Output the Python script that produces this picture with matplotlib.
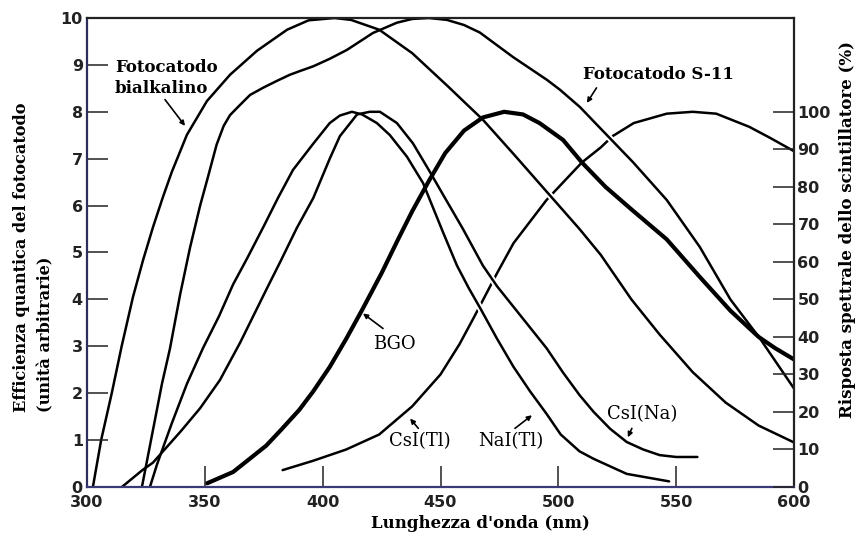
import numpy as np
import matplotlib
matplotlib.use("Agg")
import matplotlib.pyplot as plt

# wavelength (nm) / quantum efficiency of the photocathodes (arbitrary units, 0-10)
bialk_nm = [302.5, 306, 310.5, 314.7, 319.5, 323.8, 328, 332.2, 336, 342.4, 350.9, 360.7, 372.1,
            384.9, 394, 405, 412, 424, 438, 453, 468, 481, 495, 509, 518, 531, 543, 557, 571, 585, 600]
bialk_qe = [0, 1, 2, 3, 4.05, 4.84, 5.54, 6.18, 6.72, 7.51, 8.23, 8.79, 9.3,
            9.75, 9.95, 10.0, 9.96, 9.75, 9.25, 8.55, 7.83, 7.1, 6.3, 5.5, 4.95, 4.0, 3.25, 2.45, 1.8, 1.31, 0.95]

s11_nm = [323.3, 331.8, 335.2, 339.5, 343.7, 348, 351, 355, 358, 360.7, 365, 369.2, 375, 380.6,
          386.1, 390.4, 396, 403, 410.3, 421.3, 431.5, 438, 445, 452.7, 460, 466.7, 480.7, 495.2,
          500.7, 509.2, 517.6, 531.6, 546, 560, 573, 585.5, 600]
s11_qe = [0, 2.2, 2.95, 4.1, 5.1, 6.0, 6.55, 7.3, 7.7, 7.93, 8.15, 8.36, 8.52, 8.66,
          8.79, 8.87, 8.97, 9.13, 9.32, 9.68, 9.9, 9.98, 10.0, 9.96, 9.85, 9.69, 9.17, 8.68,
          8.47, 8.1, 7.66, 6.93, 6.12, 5.12, 4.0, 3.17, 2.1]

# scintillator emission spectra (% of peak)
bgo_nm = [351, 362, 376, 382, 390, 396, 403, 410, 417, 425, 432, 438, 445, 452, 460, 468, 477,
          485, 492, 502, 510, 520, 531, 546, 560, 573, 585, 592, 600]
bgo_pct = [1, 4, 11, 15, 20.5, 25.5, 32, 39.5, 47.5, 57, 66, 73.5, 81.5, 89, 95, 98.5, 100,
           99.3, 97, 92.5, 86.5, 80, 74, 66, 56, 47, 40, 37, 34]

csitl_nm = [383, 396, 410, 424, 438, 450, 458, 464, 474, 481, 495, 501, 510, 518, 523, 532,
            546, 557, 567, 581, 590, 600]
csitl_pct = [4.5, 7, 10, 14, 21.5, 30, 38, 45, 57, 65, 76.5, 80.5, 86.5, 90.5, 93.5, 97,
             99.5, 100, 99.5, 96, 93, 89.5]

nai_nm = [326.7, 329.7, 336, 342.4, 349.2, 356, 362, 368, 375, 381, 387.4, 396, 403, 407.3,
          412.4, 416.7, 423, 428.5, 435.8, 442.6, 445.5, 451, 457, 462, 467, 474, 481, 488, 495,
          501, 509, 515, 522, 529, 538, 547]
nai_pct = [0, 6, 17, 27.5, 37, 45.5, 54, 61, 69.5, 77, 84.5, 91.5, 97, 99,
           100, 99.3, 97, 93.8, 88, 81, 76.5, 68, 59, 53, 47.5, 39.5, 32, 25.5, 19.5,
           14, 9.5, 7.5, 5.5, 3.5, 2.5, 1.5]

csina_nm = [314.8, 323.5, 328, 340, 348, 356.4, 365, 376.4, 382, 389, 396, 403, 407.3, 414.6,
            420, 424.3, 431.5, 438.3, 445.5, 451, 459.5, 468, 474, 481, 488, 495, 502, 509, 515,
            522, 529, 536, 543, 550, 559]
csina_pct = [0, 4.5, 6.5, 15, 21, 28.5, 38.5, 53, 60, 69, 77, 87.5, 93.5, 99.3,
             100, 100, 97, 91.6, 84, 78, 68.8, 59, 53.5, 48, 42.5, 37, 30.5, 24.5, 20,
             15.5, 12, 10, 8.5, 8, 8]

x_ticks = [300, 350, 400, 450, 500, 550, 600]
left_ticks = list(range(0, 11))
right_ticks = list(range(0, 101, 10))

SERIF = ["DejaVu Serif"]
SANS = ["DejaVu Sans"]


def pct_to_left(p):
    # right axis runs 0-125 % over the same height as 0-10 on the left
    return np.asarray(p) * 10.0 / 125.0


fig = plt.figure(figsize=(8.59, 5.35), dpi=100)
ax = fig.add_axes([87 / 859, 1 - 487 / 535, (794 - 87) / 859, (487 - 18) / 535])
ax.set_xlim(300, 600)
ax.set_ylim(0, 10)
ax2 = ax.twinx()
ax2.set_ylim(0, 125)

lw = 1.8
line_kw = dict(color="k", solid_joinstyle="round", solid_capstyle="round")

# CsI(Tl) goes first so the curves crossing it leave small breaks in it
ax.plot(csitl_nm, pct_to_left(csitl_pct), lw=lw, zorder=1.0, **line_kw)
for xs, ys in [(nai_nm, pct_to_left(nai_pct)), (csina_nm, pct_to_left(csina_pct)),
               (bialk_nm, bialk_qe), (s11_nm, s11_qe)]:
    ax.plot(xs, ys, color="white", lw=4.6, zorder=1.1, solid_capstyle="butt",
            solid_joinstyle="round")

ax.plot(nai_nm, pct_to_left(nai_pct), lw=lw, zorder=1.2, **line_kw)
ax.plot(csina_nm, pct_to_left(csina_pct), lw=lw, zorder=1.2, **line_kw)
ax.plot(bialk_nm, bialk_qe, lw=lw, zorder=1.2, **line_kw)
ax.plot(s11_nm, s11_qe, lw=lw, zorder=1.2, **line_kw)
ax.plot(bgo_nm, pct_to_left(bgo_pct), lw=3.0, zorder=1.3, **line_kw)

# axes frame and ticks
for side, col in [("left", "#2e2e5e"), ("bottom", "#3a3a78"), ("top", "#222222"),
                  ("right", "#222222")]:
    ax.spines[side].set_color(col)
    ax.spines[side].set_linewidth(1.6)
    ax.spines[side].set_zorder(3)
    ax2.spines[side].set_visible(False)

ax.set_xticks(x_ticks)
ax.set_xticklabels([str(v) for v in x_ticks], fontweight="bold", family=SANS, fontsize=11.5)
ax.set_yticks(left_ticks)
ax.set_yticklabels([str(v) for v in left_ticks], fontweight="bold", family=SANS, fontsize=11.5)
ax.tick_params(direction="in", length=15, width=1.1, colors="#222222",
               top=False, right=False)
ax.tick_params(axis="x", pad=6)
ax.tick_params(axis="y", pad=3)

ax2.set_yticks(right_ticks)
ax2.set_yticklabels([str(v) for v in right_ticks], fontweight="bold", family=SANS, fontsize=11.5)
ax2.tick_params(direction="in", length=15, width=1.1, colors="#222222", pad=2.5)

# curve labels
ax.text(311.9, 8.72, "Fotocatodo\nbialkalino", ha="left", va="center", family=SERIF,
        fontweight="bold", fontsize=12, linespacing=1.25)
ax.text(542.3, 8.79, "Fotocatodo S-11", ha="center", va="center", family=SERIF,
        fontweight="bold", fontsize=12)
ax.text(430.3, 3.04, "BGO", ha="center", va="center", family=SERIF, fontsize=13)
ax.text(441.3, 0.97, "CsI(Tl)", ha="center", va="center", family=SERIF, fontsize=13)
ax.text(479.9, 0.97, "NaI(Tl)", ha="center", va="center", family=SERIF, fontsize=13)
ax.text(535.5, 1.55, "CsI(Na)", ha="center", va="center", family=SERIF, fontsize=13)

arrow = dict(arrowstyle="-|>", lw=1.2, color="k", mutation_scale=7, shrinkA=0, shrinkB=0)
for tail, tip in [((333.1, 8.26), (341.6, 7.70)),
                  ((516.2, 8.51), (512.1, 8.19)),
                  ((425.6, 3.38), (417.1, 3.70)),
                  ((440.6, 1.25), (437.1, 1.46)),
                  ((481.6, 1.25), (488.8, 1.53)),
                  ((531.2, 1.25), (529.5, 1.06))]:
    ax.annotate("", xy=tip, xytext=tail, arrowprops=arrow, zorder=2)

# axis titles
fig.text(480 / 859, 1 - 524 / 535, "Lunghezza d'onda (nm)", ha="center", va="center",
         family=SERIF, fontweight="bold", fontsize=12)
fig.text(22 / 859, 1 - 412 / 535, "Efficienza quantica del fotocatodo", rotation=90,
         ha="center", va="bottom", family=SERIF, fontweight="bold", fontsize=11.6)
fig.text(46 / 859, 1 - 412 / 535, "(unità arbitrarie)", rotation=90,
         ha="center", va="bottom", family=SERIF, fontweight="bold", fontsize=11.6)
fig.text(848 / 859, 1 - 229 / 535, "Risposta spettrale dello scintillatore (%)", rotation=90,
         ha="center", va="center", family=SERIF, fontweight="bold", fontsize=12)

fig.savefig("out.png", dpi=100, facecolor="white")
